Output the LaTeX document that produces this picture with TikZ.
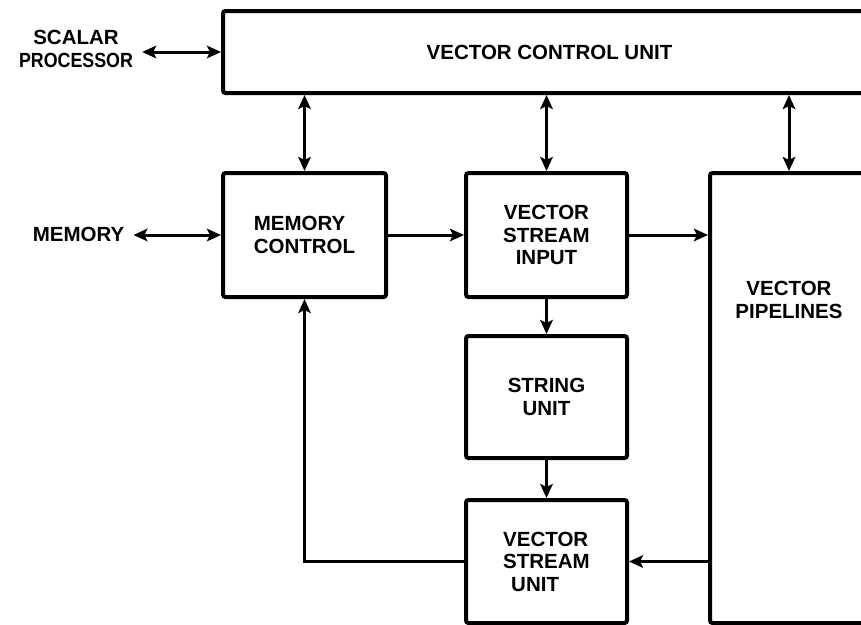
\documentclass[tikz,border=0pt]{standalone}
\usepackage{fontspec}
\setmainfont{Liberation Sans}
\usetikzlibrary{arrows.meta}
\newcommand\dgfont{\fontsize{20.5}{22.5}\selectfont\bfseries}
\begin{document}
\begin{tikzpicture}[x=1pt,y=-1pt,
  box/.style={draw, line width=4pt, rounded corners=2.5pt, inner sep=0pt, align=center, font=\dgfont},
  lbl/.style={inner sep=0pt, align=center, font=\dgfont},
  tip/.tip={Stealth[length=14pt,width=12.5pt,inset=3pt]},
  arr/.style={line width=3pt, -tip},
  dbl/.style={line width=3pt, tip-tip}]
\useasboundingbox (0,0) rectangle (861,624);
\begin{scope}
\clip (0,0) rectangle (861,624);
% boxes
\node[box, minimum width=653pt, minimum height=82pt] (vcu) at (549.5,52) {VECTOR CONTROL UNIT};
\node[box, align=left, minimum width=163pt, minimum height=124pt] (mc) at (304.5,235) {MEMORY\\CONTROL};
\node[box, minimum width=161pt, minimum height=124pt] (vsi) at (546.5,235) {VECTOR\\STREAM\\INPUT};
\node[box, minimum width=161pt, minimum height=122pt] (su) at (546.5,397) {STRING\\UNIT};
\node[box, align=left, minimum width=161pt, minimum height=123pt] (vsu) at (546.5,561.5) {VECTOR\\STREAM\\\hspace*{8pt}UNIT};
\node[box, minimum width=158pt, minimum height=450pt] (vp) at (789,398) {};
\node[lbl] (vpt) at (789,300) {VECTOR\\PIPELINES};
% outside labels
\node[lbl, inner sep=9pt] (sp) at (76,49) {SCALAR\\\scalebox{0.87}[1]{PROCESSOR}};
\node[lbl, inner sep=9pt] (mem) at (78.5,234) {MEMORY};
% connectors
\draw[dbl] (sp.east |- vcu.west) -- (vcu.west);
\draw[dbl] (mem.east |- mc.west) -- (mc.west);
\draw[dbl] (vcu.south -| mc.north) -- (mc.north);
\draw[dbl] (vcu.south -| vsi.north) -- (vsi.north);
\draw[dbl] (vcu.south -| vp.north) -- (vp.north);
\draw[arr] (mc.east) -- (vsi.west);
\draw[arr] (vsi.east) -- (vsi.east -| vp.west);
\draw[arr] (vsi.south) -- (su.north);
\draw[arr] (su.south) -- (vsu.north);
\draw[arr] (vp.west |- vsu.east) -- (vsu.east);
\draw[arr] (vsu.west) -- (vsu.west -| mc.south) -- (mc.south);
\end{scope}
\end{tikzpicture}
\end{document}
